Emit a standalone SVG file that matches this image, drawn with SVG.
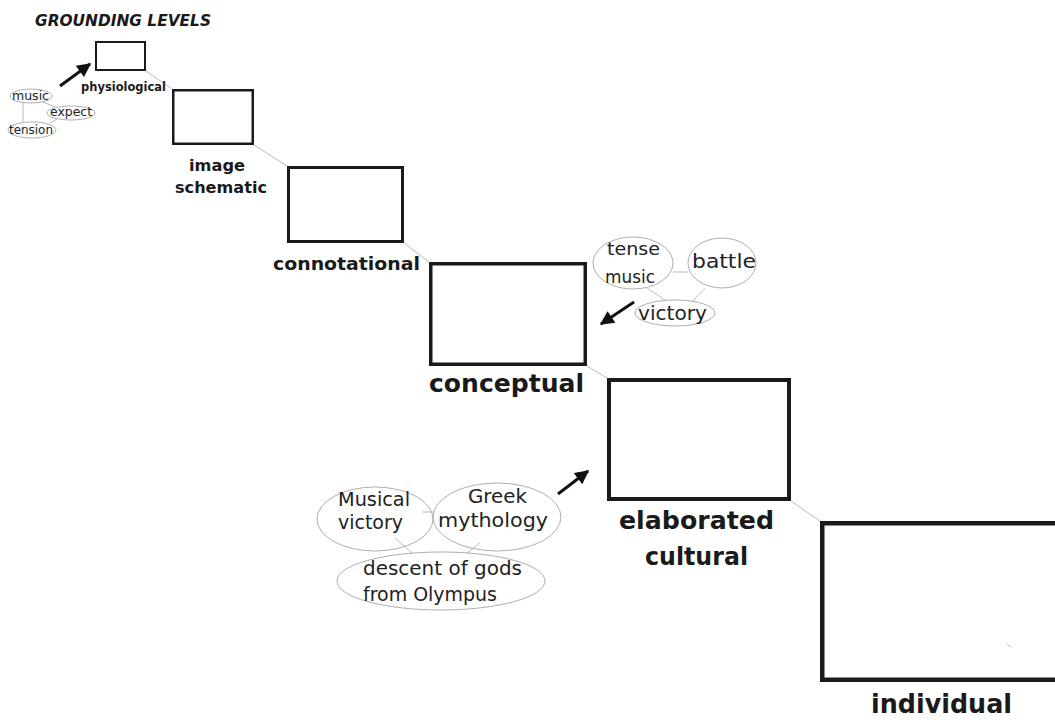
<svg xmlns="http://www.w3.org/2000/svg" width="1055" height="720" viewBox="0 0 1055 720">
<style>
.box{fill:none;stroke:#1a1a1a}
.lvl{font-family:"DejaVu Sans",sans-serif;font-weight:bold;fill:#1a1a1a}
.ell{fill:none;stroke:#999;stroke-width:0.8}
.et{font-family:"DejaVu Sans",sans-serif;fill:#222}
.link{stroke:#aaa;stroke-width:0.8;fill:none}
.arrow{stroke:#111;stroke-width:3;fill:none;marker-end:url(#ah)}
</style>
<defs>
<marker id="ah" viewBox="0 0 10 10" refX="9" refY="5" markerUnits="userSpaceOnUse" markerWidth="17" markerHeight="14" orient="auto">
<path d="M0,0 L10,5 L0,10 z" fill="#111"/>
</marker>
</defs>
<rect width="1055" height="720" fill="#fff"/>
<text class="lvl" x="35" y="26" font-size="15" font-style="italic" textLength="176" lengthAdjust="spacingAndGlyphs">GROUNDING LEVELS</text>

<g id="connectors">
<line class="link" x1="146" y1="71" x2="172" y2="89"/>
<line class="link" x1="254" y1="145" x2="287" y2="166"/>
<line class="link" x1="404" y1="243" x2="429" y2="262"/>
<line class="link" x1="587" y1="366" x2="607" y2="378"/>
<line class="link" x1="791" y1="501" x2="820" y2="521"/>
<line class="link" x1="1007" y1="644" x2="1011" y2="647"/>
<line class="link" x1="23" y1="102" x2="23" y2="122"/>
<line class="link" x1="43" y1="102" x2="55" y2="107"/>
<line class="link" x1="50" y1="123" x2="57" y2="119"/>
<line class="link" x1="673" y1="272" x2="688" y2="272"/>
<line class="link" x1="647" y1="288" x2="665" y2="300"/>
<line class="link" x1="705" y1="288" x2="693" y2="301"/>
<line class="link" x1="422" y1="512" x2="434" y2="512"/>
<line class="link" x1="395" y1="538" x2="412" y2="553"/>
<line class="link" x1="480" y1="543" x2="467" y2="553"/>
<line class="arrow" x1="60" y1="86" x2="90" y2="64"/>
<line class="arrow" x1="634" y1="302" x2="601" y2="324"/>
<line class="arrow" x1="558" y1="494" x2="588" y2="471"/>
</g>

<g id="physiological">
<rect class="box" x="96" y="42" width="49" height="28" stroke-width="2"/>
<text class="lvl" x="81" y="91" font-size="11.5" textLength="85" lengthAdjust="spacingAndGlyphs">physiological</text>
</g>
<g id="image-schematic">
<rect class="box" x="173.25" y="90.25" width="79.5" height="53.5" stroke-width="2.5"/>
<text class="lvl" x="189" y="171" font-size="16" textLength="56" lengthAdjust="spacingAndGlyphs">image</text>
<text class="lvl" x="175" y="193" font-size="16" textLength="92" lengthAdjust="spacingAndGlyphs">schematic</text>
</g>
<g id="connotational">
<rect class="box" x="288.5" y="167.5" width="114" height="74" stroke-width="3"/>
<text class="lvl" x="273" y="270" font-size="18" textLength="147" lengthAdjust="spacingAndGlyphs">connotational</text>
</g>
<g id="conceptual">
<rect class="box" x="430.75" y="263.75" width="154.5" height="100.5" stroke-width="3.5"/>
<text class="lvl" x="429" y="392" font-size="24" textLength="155" lengthAdjust="spacingAndGlyphs">conceptual</text>
</g>
<g id="elaborated-cultural">
<rect class="box" x="609" y="380" width="180" height="119" stroke-width="4"/>
<text class="lvl" x="619" y="529" font-size="24" textLength="155" lengthAdjust="spacingAndGlyphs">elaborated</text>
<text class="lvl" x="645" y="565" font-size="24" textLength="103" lengthAdjust="spacingAndGlyphs">cultural</text>
</g>
<g id="individual">
<rect class="box" x="822.25" y="523.25" width="260" height="156.5" stroke-width="4.5"/>
<text class="lvl" x="871" y="713" font-size="26" textLength="141" lengthAdjust="spacingAndGlyphs">individual</text>
</g>

<g id="e-music">
<ellipse class="ell" cx="31" cy="96" rx="21" ry="7"/>
<text class="et" x="12" y="100" font-size="12" textLength="37" lengthAdjust="spacingAndGlyphs">music</text>
</g>
<g id="e-expect">
<ellipse class="ell" cx="71" cy="113" rx="24" ry="7"/>
<text class="et" x="50" y="116" font-size="12" textLength="42" lengthAdjust="spacingAndGlyphs">expect</text>
</g>
<g id="e-tension">
<ellipse class="ell" cx="32" cy="130" rx="24" ry="8"/>
<text class="et" x="9" y="134" font-size="12" textLength="44" lengthAdjust="spacingAndGlyphs">tension</text>
</g>

<g id="e-tense-music">
<ellipse class="ell" cx="633" cy="263" rx="40" ry="26"/>
<text class="et" x="607" y="255" font-size="18" textLength="53" lengthAdjust="spacingAndGlyphs">tense</text>
<text class="et" x="605" y="283" font-size="18" textLength="50" lengthAdjust="spacingAndGlyphs">music</text>
</g>
<g id="e-battle">
<ellipse class="ell" cx="722" cy="263" rx="34" ry="25"/>
<text class="et" x="692" y="268" font-size="19" textLength="64" lengthAdjust="spacingAndGlyphs">battle</text>
</g>
<g id="e-victory">
<ellipse class="ell" cx="675" cy="313" rx="40" ry="13"/>
<text class="et" x="638" y="320" font-size="19" textLength="69" lengthAdjust="spacingAndGlyphs">victory</text>
</g>

<g id="e-musical-victory">
<ellipse class="ell" cx="375" cy="519" rx="58" ry="32"/>
<text class="et" x="338" y="506" font-size="19" textLength="72" lengthAdjust="spacingAndGlyphs">Musical</text>
<text class="et" x="338" y="529" font-size="19" textLength="65" lengthAdjust="spacingAndGlyphs">victory</text>
</g>
<g id="e-greek-mythology">
<ellipse class="ell" cx="497" cy="517" rx="64" ry="34"/>
<text class="et" x="468" y="503" font-size="20" textLength="59" lengthAdjust="spacingAndGlyphs">Greek</text>
<text class="et" x="438" y="527" font-size="20" textLength="110" lengthAdjust="spacingAndGlyphs">mythology</text>
</g>
<g id="e-descent">
<ellipse class="ell" cx="441" cy="581" rx="104" ry="29"/>
<text class="et" x="363" y="575" font-size="20" textLength="159" lengthAdjust="spacingAndGlyphs">descent of gods</text>
<text class="et" x="363" y="601" font-size="20" textLength="134" lengthAdjust="spacingAndGlyphs">from Olympus</text>
</g>
</svg>
